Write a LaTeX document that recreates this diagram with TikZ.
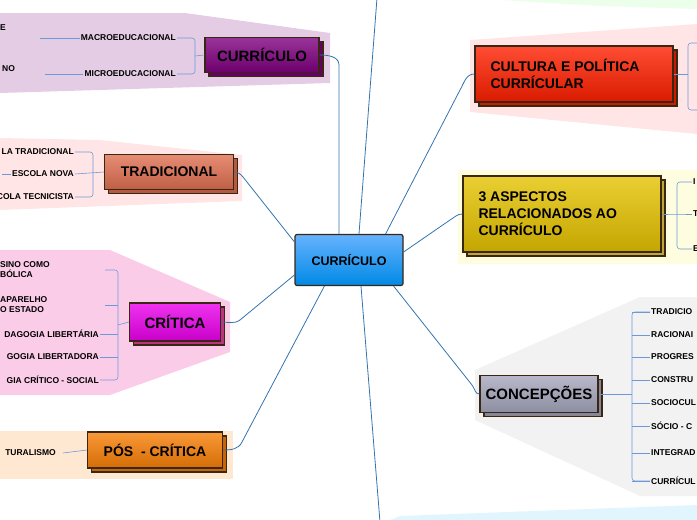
\documentclass[tikz,border=0pt]{standalone}
\usepackage{fontspec}
\setmainfont{Liberation Sans}
\colorlet{cPur}{violet}
\colorlet{cTra}{red!40!brown!80!white}
\colorlet{cCri}{magenta!85!violet}
\colorlet{cPos}{orange!90!brown}
\colorlet{cCul}{red!75!orange}
\colorlet{cAsp}{yellow!70!orange!90!black}
\colorlet{cCon}{blue!15!gray!60}
\begin{document}
\begin{tikzpicture}[x=1pt,y=-1pt,
  con/.style={draw=cyan!60!blue!80!black,line width=0.8pt},
  brk/.style={draw=cyan!50!blue!60,line width=0.6pt,rounded corners=3pt},
  kid/.style={font=\bfseries\fontsize{8.5}{10}\selectfont,inner sep=1pt},
  tb/.style={draw=black!70!brown,line width=1.2pt,font=\bfseries\fontsize{14}{16}\selectfont,inner sep=0pt,align=center}]
\useasboundingbox (0,0) rectangle (697,520);
\begin{scope}
\clip (0,0) rectangle (697,520);
% backgrounds
\fill[green!8] (500,0) -- (697,0) -- (697,9) -- (600,6) -- cycle;
\fill[cyan!12] (390,520) -- (400,516) -- (697,505) -- (697,520) -- cycle;
\fill[violet!20] (0,13) -- (185,13) -- (330,33) -- (330,83) -- (0,93) -- cycle;
\fill[red!10] (0,138) -- (100,140) -- (242,155) -- (242,201) -- (0,210) -- cycle;
\fill[magenta!20] (0,250) -- (110,250) -- (230,302) -- (230,352) -- (110,395) -- (0,395) -- cycle;
\fill[orange!18] (0,431) rectangle (233,479);
\fill[red!10] (470,40) -- (697,24) -- (697,134) -- (470,112) -- cycle;
\fill[yellow!12] (458,170) rectangle (697,264);
\fill[gray!10] (475,370) -- (640,297) -- (697,297) -- (697,496) -- (640,496) -- (475,420) -- cycle;

% central
\node[tb,minimum width=108pt,minimum height=51pt,top color=cyan!50!blue!60,bottom color=cyan!60!blue!90!black,rounded corners=2pt,font=\bfseries\fontsize{12.5}{14}\selectfont] (c) at (349,260) {CURRÍCULO};

% main nodes
\newcommand{\mainbx}[6]{% name, x, y, w, h, color
  \fill[#6!80!black,draw=black!70!brown,line width=1.2pt] (#2-#4/2+4,#3-#5/2+4) rectangle (#2+#4/2+4,#3+#5/2+4);
  \node[tb,minimum width=#4pt,minimum height=#5pt,top color=#6!80!white,bottom color=#6!85!black] (#1) at (#2,#3) {};}
\mainbx{cur}{262}{55}{114}{35}{cPur}
\node[font=\bfseries\fontsize{15}{17}\selectfont] at (cur) {CURRÍCULO};
\mainbx{tra}{169}{172}{129}{35}{cTra}
\node[font=\bfseries\fontsize{14}{16}\selectfont] at (tra) {TRADICIONAL};
\mainbx{cri}{175}{322}{91}{38}{cCri}
\node[font=\bfseries\fontsize{15}{17}\selectfont] at (cri) {CRÍTICA};
\mainbx{pos}{155}{450}{135}{36}{cPos}
\node[font=\bfseries\fontsize{14}{16}\selectfont] at (pos) {PÓS~ - CRÍTICA};
\mainbx{cul}{574}{74}{198}{56}{cCul}
\node[font=\bfseries\fontsize{14}{17}\selectfont,align=left,anchor=west] at (487,74) {CULTURA E POLÍTICA\\CURRÍCULAR};
\mainbx{asp}{562}{214}{198}{76}{cAsp}
\node[font=\bfseries\fontsize{14}{17}\selectfont,align=left,anchor=west] at (475,214) {3 ASPECTOS\\RELACIONADOS AO\\CURRÍCULO};
\mainbx{con}{539}{394}{118}{37}{cCon}
\node[font=\bfseries\fontsize{15}{17}\selectfont] at (con) {CONCEPÇÕES};

% connectors from center
\coordinate (top) at (377,-2);
\coordinate (bot) at (380,522);
\draw[con] (339,234) -- (339,65) to[out=90,in=0] (cur.east);
\draw[con] ([xshift=10pt]c.north) -- (top);
\draw[con] (c.north east) ++(-18,0) -- (460,90) to[out=60,in=180] (cul.west);
\draw[con] (c.east) ++(0,-8) -- (450,220) to[out=30,in=180] (asp.west);
\draw[con] (c.south east) ++(-10,0) -- (472,385) to[out=-50,in=180] (con.west);
\draw[con] ([xshift=12pt]c.south) -- (bot);
\draw[con] (c.south west) ++(30,0) -- (242,442) to[out=-115,in=0] (pos.east);
\draw[con] (c.west) ++(0,15) -- (240,320) to[out=-145,in=0] (cri.east);
\draw[con] (c.north west) ++(0,8) -- (243,177) to[out=130,in=0] (tra.east);

% children CURRÍCULO
\node[kid,anchor=east] (k1) at (177,38) {MACROEDUCACIONAL};
\node[kid,anchor=east] (k2) at (177,74) {MICROEDUCACIONAL};
\node[kid,anchor=west] at (-1,28) {E};
\node[kid,anchor=west] at (1,69) {NO};
\draw[brk] (k1.east) -- (195,38) -- (195,74) -- (k2.east);
\draw[brk] (195,56) -- (cur.west);
\draw[brk] (40,38) -- (k1.west); \draw[brk] (45,74) -- (k2.west);
% children TRADICIONAL
\node[kid,anchor=east] (t1) at (75,152) {LA TRADICIONAL};
\node[kid,anchor=east] (t2) at (75,174) {ESCOLA NOVA};
\node[kid,anchor=east] (t3) at (75,197) {COLA TECNICISTA};
\draw[brk] (t1.east) -- (93,152) -- (93,197) -- (t3.east);
\draw[brk] (t2.east) -- (tra.west);
\draw[brk] (t2.west) -- (2,174);
% children CRÍTICA
\node[kid,anchor=west,align=left] (c1) at (-1,270) {SINO COMO\\BÓLICA};
\node[kid,anchor=west,align=left] (c2) at (-1,305) {APARELHO\\O ESTADO};
\node[kid,anchor=east] (c3) at (100,334) {DAGOGIA LIBERTÁRIA};
\node[kid,anchor=east] (c4) at (100,357) {GOGIA LIBERTADORA};
\node[kid,anchor=east] (c5) at (100,380) {GIA CRÍTICO - SOCIAL};
\draw[brk] (105,270) -- (118,270) -- (118,380) -- (c5.east);
\draw[brk] (105,305) -- (118,305);
\draw[brk] (c3.east) -- (118,334); \draw[brk] (c4.east) -- (118,357);
\draw[brk] (118,325) -- (cri.west);
% PÓS
\node[kid,anchor=east] (p1) at (57,453) {TURALISMO};
\draw[brk] (p1.east) ++(6,0) -- (pos.west);
% CULTURA
\draw[brk] (cul.east) -- (688,74);
\draw[brk] (700,43) -- (688,43) -- (688,110) -- (700,110);
% ASPECTOS
\node[kid,anchor=west] (a1) at (692,182) {I};
\node[kid,anchor=west] (a2) at (692,214) {T};
\node[kid,anchor=west] (a3) at (692,249) {E};
\draw[brk] (asp.east) -- (677,214) -- (a2.west);
\draw[brk] (a1.west) -- (677,182) -- (677,249) -- (a3.west);
% CONCEPÇÕES
\foreach \t/\y [count=\i] in {TRADICIO/312,RACIONAI/335,PROGRES/357,CONSTRU/380,SOCIOCUL/403,SÓCIO - C/426,INTEGRAD/453,CURRÍCUL/481}{
  \node[kid,anchor=west] (q\i) at (650,\y) {\t};
  \draw[brk] (q\i.west) -- (632,\y);}
\draw[brk] (q1.west) -- (632,312) -- (632,481) -- (q8.west);
\draw[brk] (con.east) -- (632,394);
\end{scope}
\end{tikzpicture}
\end{document}
